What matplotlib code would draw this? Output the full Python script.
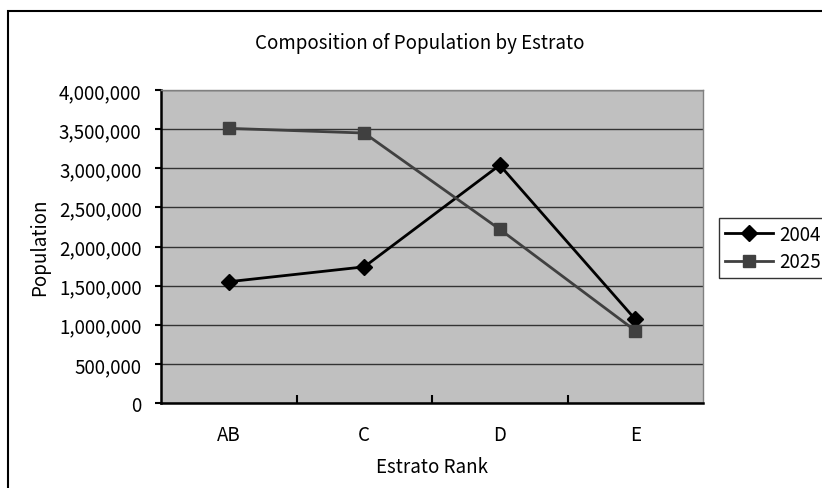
import matplotlib
matplotlib.use('Agg')
import matplotlib.pyplot as plt
from matplotlib.patches import Rectangle
from matplotlib.ticker import FuncFormatter, MultipleLocator

plt.rcParams['font.family'] = ['Noto Sans CJK JP', 'DejaVu Sans']

# Population per estrato rank
ranks = ['AB', 'C', 'D', 'E']
pop_2004 = [1550000, 1740000, 3040000, 1070000]
pop_2025 = [3510000, 3450000, 2220000, 925000]

W, H = 822, 489
FS = 13.5
fig = plt.figure(figsize=(W / 100, H / 100), dpi=100)

# outer chart frame, running off the right and bottom edges
fig.patches.append(Rectangle((8 / W, -0.1), 1.2, 1.1 - 12 / H, transform=fig.transFigure,
                             fill=False, edgecolor='black', linewidth=1.5))

ax = fig.add_axes([161 / W, 1 - 404 / H, (703 - 161) / W, (404 - 91) / H])
ax.set_facecolor('#c0c0c0')

x = range(len(ranks))
ax.plot(x, pop_2004, color='black', marker='D', markersize=8, linewidth=2,
        label='2004', zorder=3)
ax.plot(x, pop_2025, color='#404040', marker='s', markersize=9, linewidth=2,
        label='2025', zorder=3)

ax.set_xlim(-0.5, len(ranks) - 0.5)
ax.set_ylim(0, 4000000)
ax.yaxis.set_major_locator(MultipleLocator(500000))
ax.yaxis.set_major_formatter(FuncFormatter(lambda v, p: f'{int(v):,}'))
ax.grid(axis='y', color='#333333', linewidth=1)
ax.set_axisbelow(True)

ax.set_xticks([i for i in x])
ax.set_xticklabels(ranks)
ax.set_xticks([i + 0.5 for i in range(len(ranks) - 1)], minor=True)
ax.tick_params(axis='x', which='major', length=0, pad=15, labelsize=FS)
ax.tick_params(axis='x', which='minor', direction='in', length=6, width=1.5)
ax.tick_params(axis='y', direction='out', length=4, width=1.5, labelsize=FS, pad=10)

for side in ['left', 'bottom']:
    ax.spines[side].set_linewidth(1.8)
    ax.spines[side].set_color('black')
for side in ['top', 'right']:
    ax.spines[side].set_color('#808080')
    ax.spines[side].set_linewidth(1)

ax.set_xlabel('Estrato Rank', fontsize=FS, labelpad=8)
ax.set_ylabel('Population', fontsize=FS, labelpad=6)
fig.text(420 / W, 1 - 43 / H, 'Composition of Population by Estrato',
         ha='center', va='center', fontsize=FS)

leg = fig.legend(loc='upper left', bbox_to_anchor=(719 / W, 1 - 219 / H),
                 frameon=True, fancybox=False, edgecolor='black', fontsize=FS,
                 handlelength=2.6, handletextpad=0.3, borderpad=0.3,
                 labelspacing=0.35, borderaxespad=0)
leg.get_frame().set_linewidth(1)

fig.savefig('out.png', dpi=100)
